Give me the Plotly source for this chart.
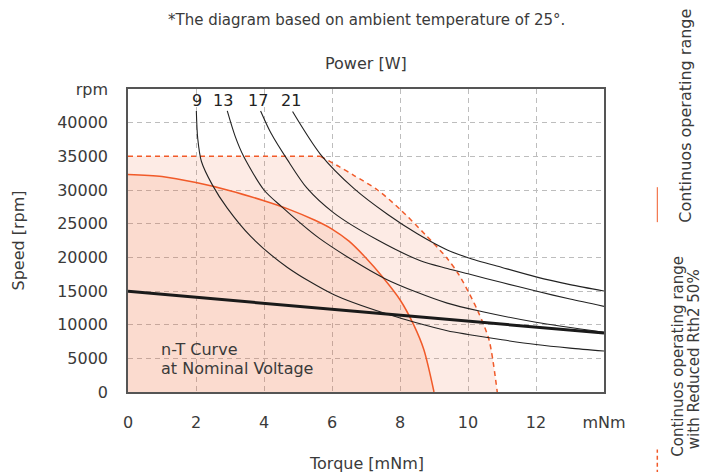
import plotly.graph_objects as go

# ---- data ----
x_ticks = [0, 2, 4, 6, 8, 10, 12, 14]
x_tick_text = ["0", "2", "4", "6", "8", "10", "12", "mNm"]
y_ticks = [0, 5000, 10000, 15000, 20000, 25000, 30000, 35000, 40000, 45000]
y_tick_text = ["0", "5000", "10000", "15000", "20000", "25000", "30000", "35000", "40000", "rpm"]

# continuous operating range (solid orange)
cont_t = [0, 1, 2, 3, 4, 4.7, 5.5, 6.0, 6.5, 7.0, 7.5, 8.0, 8.4, 8.7, 9.0]
cont_n = [32300, 32000, 31100, 29900, 28400, 27200, 25500, 24200, 22400, 19900, 17000, 13700, 10000, 6300, 0]

# continuous operating range with reduced Rth2 50% (dashed orange): flat part + falling part
red_flat_t = [0, 5.66]
red_flat_n = [35000, 35000]
red_t = [5.66, 6.2, 6.65, 7.34, 8.02, 8.75, 9.39, 9.74, 10.05, 10.32, 10.62, 10.86]
red_n = [35000, 33500, 32150, 30000, 27050, 23340, 19840, 17360, 14500, 11680, 7720, 0]

# n-T curve at nominal voltage (thick black)
nt_t = [0, 7, 14]
nt_n = [14950, 11800, 8750]

# power curves [W]
p9_t = [2.01, 2.05, 2.16, 2.48, 2.92, 3.61, 4.69, 6.06, 7.53, 9.39, 10.0, 11.0, 12.0, 13.0, 14.0]
p9_n = [41740, 37690, 34230, 30760, 27300, 23100, 18500, 14440, 11720, 9100, 8550, 7750, 7050, 6520, 6080]
p13_t = [2.92, 3.15, 3.4, 4.0, 4.5, 5.62, 7.53, 9.39, 10.5, 12.0, 14.0]
p13_n = [41740, 38000, 35000, 30000, 27600, 22850, 16910, 13200, 11850, 10350, 8850]
p17_t = [3.9, 4.2, 4.69, 5.26, 6.05, 7.33, 8.6, 9.39, 10.0, 11.0, 12.0, 13.0, 14.0]
p17_n = [41740, 38500, 34470, 30300, 26600, 22600, 19500, 18350, 17550, 16250, 15000, 13800, 12720]
p21_t = [4.84, 5.66, 6.65, 7.63, 8.51, 9.39, 10.0, 11.0, 12.0, 13.0, 14.0]
p21_n = [41650, 35300, 30200, 26400, 23500, 21100, 19950, 18500, 17100, 15950, 15000]

power_labels = ["9", "13", "17", "21"]
power_label_t = [2.03, 2.8, 3.82, 4.8]
power_label_n = 43300

ORANGE = "#f15a29"
FONT = "DejaVu Sans"
TXT = "#3a3a3a"

fig = go.Figure()

# fills + dashed boundary of the reduced-Rth2 range
fig.add_trace(go.Scatter(x=red_flat_t, y=red_flat_n, mode="lines",
                         line=dict(color=ORANGE, width=1.5, dash="5px,4px"),
                         fill="tozeroy", fillcolor="rgba(240,90,40,0.12)", hoverinfo="skip", showlegend=False))
fig.add_trace(go.Scatter(x=red_t, y=red_n, mode="lines",
                         line=dict(color=ORANGE, width=1.5, dash="5px,4px", shape="spline", smoothing=0.8),
                         fill="tozeroy", fillcolor="rgba(240,90,40,0.12)", hoverinfo="skip", showlegend=False))
# continuous range
fig.add_trace(go.Scatter(x=cont_t, y=cont_n, mode="lines", line=dict(color=ORANGE, width=1.5, shape="spline", smoothing=0.8),
                         fill="tozeroy", fillcolor="rgba(240,90,40,0.11)", hoverinfo="skip", showlegend=False))

for tt, nn in [(p9_t, p9_n), (p13_t, p13_n), (p17_t, p17_n), (p21_t, p21_n)]:
    fig.add_trace(go.Scatter(x=tt, y=nn, mode="lines", line=dict(color="#222222", width=1.1, shape="spline", smoothing=0.8),
                             hoverinfo="skip", showlegend=False))

fig.add_trace(go.Scatter(x=nt_t, y=nt_n, mode="lines", line=dict(color="#1a1a1a", width=3), hoverinfo="skip", showlegend=False))

annotations = []
for lab, tx in zip(power_labels, power_label_t):
    annotations.append(dict(x=tx, y=power_label_n, xref="x", yref="y", text=lab, showarrow=False,
                            xanchor="center", yanchor="middle", font=dict(family=FONT, size=16, color="#222")))

annotations += [
    dict(x=0.9, y=6280, xref="x", yref="y", text="n-T Curve", showarrow=False, xanchor="left", yanchor="middle",
         font=dict(family=FONT, size=16, color=TXT)),
    dict(x=0.9, y=3460, xref="x", yref="y", text="at Nominal Voltage", showarrow=False, xanchor="left", yanchor="middle",
         font=dict(family=FONT, size=16, color=TXT)),
    dict(x=0.5, y=1.0, xref="paper", yref="paper", yshift=26, text="Power [W]", showarrow=False,
         xanchor="center", yanchor="middle", font=dict(family=FONT, size=16, color=TXT)),
    dict(x=0.5, y=1.0, xref="paper", yref="paper", yshift=69, text="*The diagram based on ambient temperature of 25°.",
         showarrow=False, xanchor="center", yanchor="middle", font=dict(family=FONT, size=15, color=TXT)),
    dict(x=0.5, y=0, xref="paper", yref="paper", yshift=-71, text="Torque [mNm]", showarrow=False,
         xanchor="center", yanchor="middle", font=dict(family=FONT, size=16, color=TXT)),
    dict(x=0, y=0.5, xref="paper", yref="paper", xshift=-110, text="Speed [rpm]", showarrow=False, textangle=-90,
         xanchor="center", yanchor="middle", font=dict(family=FONT, size=16, color=TXT)),
    dict(x=1.171, y=0.913, xref="paper", yref="paper", text="Continuos operating range", showarrow=False, textangle=-90,
         xanchor="center", yanchor="middle", font=dict(family=FONT, size=16, color=TXT)),
    dict(x=1.155, y=0.119, xref="paper", yref="paper",
         text="Continuos operating range", showarrow=False, textangle=-90,
         xanchor="center", yanchor="middle", font=dict(family=FONT, size=15, color=TXT)),
    dict(x=1.188, y=0.11, xref="paper", yref="paper",
         text="with Reduced Rth2 50%", showarrow=False, textangle=-90,
         xanchor="center", yanchor="middle", font=dict(family=FONT, size=15, color=TXT)),
]

shapes = [
    dict(type="line", xref="paper", yref="paper", x0=1.112, x1=1.112, y0=0.5605, y1=0.676,
         line=dict(color=ORANGE, width=1)),
    dict(type="line", xref="paper", yref="paper", x0=1.112, x1=1.112, y0=-0.27, y1=-0.19,
         line=dict(color=ORANGE, width=1.5, dash="4px,3px")),
]

fig.update_layout(
    width=700, height=464,
    margin=dict(l=120, r=104, t=81, b=80),
    paper_bgcolor="white", plot_bgcolor="white",
    annotations=annotations, shapes=shapes,
    font=dict(family=FONT, size=16, color=TXT),
)
fig.update_xaxes(range=[0, 14], tickvals=x_ticks, ticktext=x_tick_text, ticks="", ticklabelstandoff=15,
                 showgrid=True, gridcolor="#bdbdbd", gridwidth=1, griddash="5px,4px",
                 showline=True, mirror=True, linecolor="#555555", linewidth=1.5, zeroline=False,
                 tickfont=dict(family=FONT, size=16, color=TXT))
fig.update_yaxes(range=[0, 45000], tickvals=y_ticks, ticktext=y_tick_text, ticks="", ticklabelstandoff=15,
                 showgrid=True, gridcolor="#bdbdbd", gridwidth=1, griddash="5px,4px",
                 showline=True, mirror=True, linecolor="#555555", linewidth=1.5, zeroline=False,
                 tickfont=dict(family=FONT, size=16, color=TXT))

fig.write_html("out.html")
